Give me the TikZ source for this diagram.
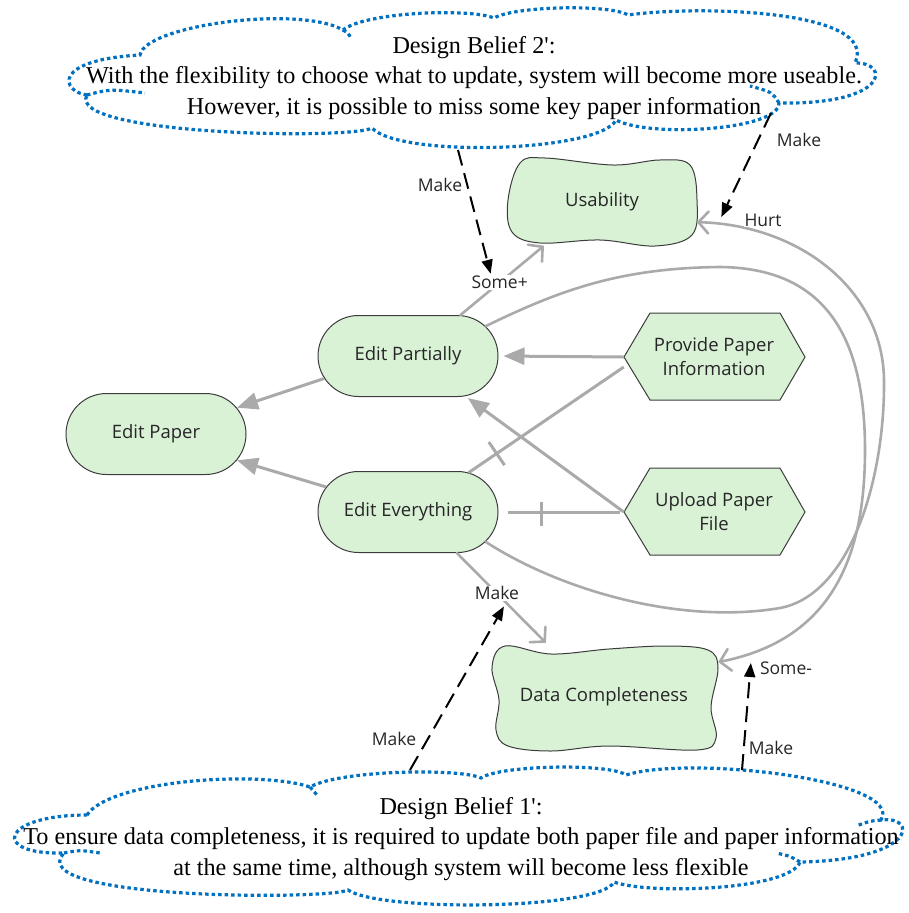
\documentclass[tikz,border=0pt]{standalone}
\usepackage{fontspec}
\setmainfont{Liberation Serif}
\newfontfamily\uifont{Open Sans}
\usetikzlibrary{shapes.misc, arrows.meta, decorations.markings}

\definecolor{nodefill}{RGB}{217,242,214}
\definecolor{nodeedge}{RGB}{60,60,60}
\definecolor{linkgray}{RGB}{170,170,170}
\definecolor{beliefblue}{RGB}{0,112,192}

\tikzset{
  goal/.style={rounded rectangle, draw=nodeedge, fill=nodefill, line width=1pt,
    minimum width=180pt, minimum height=81pt, inner sep=0pt,
    font=\uifont\fontsize{18.5}{24}\selectfont, text=black!85},
  plainbox/.style={rectangle, inner sep=0pt, align=center,
    font=\uifont\fontsize{18.5}{24}\selectfont, text=black!85},
  softshape/.style={draw=nodeedge, fill=nodefill, line width=1pt},
  hexshape/.style={draw=nodeedge, fill=nodefill, line width=1pt, line join=miter},
  dep/.style={draw=linkgray, line width=3pt, -{Triangle[length=21pt,width=17pt]}},
  contrib/.style={draw=linkgray, line width=2.6pt, line cap=round,
    -{Straight Barb[length=10pt,width=22pt,line cap=round]}},
  breaklink/.style={draw=linkgray, line width=3pt},
  cutmark/.style={postaction={decorate, decoration={markings,
    mark=at position #1 with {\draw[draw=linkgray, line width=3pt] (0pt,-14pt) -- (0pt,14pt);}}}},
  belieflink/.style={draw=black, line width=2pt, dash pattern=on 16pt off 8pt,
    -{Triangle[length=14pt,width=11pt]}},
  beliefcloud/.style={draw=beliefblue, line width=3.2pt, dash pattern=on 3.5pt off 3pt},
  belieftext/.style={align=center, inner sep=0pt, font=\fontsize{24.2}{30.5}\selectfont},
  lbl/.style={inner sep=1pt, font=\uifont\fontsize{17.5}{20}\selectfont, text=black!85}
}

\begin{document}
\begin{tikzpicture}[x=1pt,y=-1pt]
\useasboundingbox (0,0) rectangle (909,913);

% ---- belief clouds ----
\draw[beliefcloud] (87,95) .. controls (62,92) and (50,60) .. (140,55)
  .. controls (145,25) and (300,5) .. (343,30)
  .. controls (365,12) and (470,8) .. (494,18)
  .. controls (515,6) and (610,4) .. (628,15)
  .. controls (700,5) and (880,10) .. (855,63)
  .. controls (890,62) and (890,105) .. (779,103)
  .. controls (780,130) and (650,138) .. (616,120)
  .. controls (600,152) and (400,158) .. (372,128)
  .. controls (350,140) and (65,135) .. (87,95);
\draw[beliefcloud] (87,95) .. controls (110,89) .. (145,93);
\draw[beliefcloud] (779,103) .. controls (772,92) .. (750,86);
\draw[beliefcloud] (343,30) .. controls (348,33) .. (351,38);

\draw[beliefcloud] (87,815) .. controls (110,780) and (260,770) .. (310,787)
  .. controls (340,770) and (460,768) .. (481,778)
  .. controls (500,765) and (610,763) .. (626,775)
  .. controls (690,755) and (905,780) .. (881,820)
  .. controls (918,815) and (918,860) .. (800,862)
  .. controls (790,890) and (650,895) .. (614,882)
  .. controls (600,910) and (380,912) .. (348,890)
  .. controls (330,900) and (20,900) .. (64,853)
  .. controls (-10,855) and (0,815) .. (87,815);
\draw[beliefcloud] (64,853) .. controls (80,850) .. (100,853);
\draw[beliefcloud] (881,820) .. controls (870,821) .. (856,826);
\draw[beliefcloud] (800,862) .. controls (790,856) .. (776,853);
\draw[beliefcloud] (310,787) .. controls (313,791) .. (317,795);

\node[belieftext] (belief2) at (474,78) {Design Belief 2\textquotesingle:\\With the flexibility to choose what to update, system will become more useable.\\However, it is possible to miss some key paper information};
\node[belieftext] (belief1) at (461,839) {Design Belief 1\textquotesingle:\\To ensure data completeness, it is required to update both paper file and paper information\\at the same time, although system will become less flexible};

% ---- soft goals and tasks ----
\draw[softshape] plot[smooth cycle, tension=0.6] coordinates {(520,163) (545,158) (613,165) (660,160) (690,165) (697,200) (692,235) (655,246) (600,240) (540,243) (512,232) (508,200)};
\draw[softshape] plot[smooth cycle, tension=0.6] coordinates {(505,646) (551,654) (609,649) (667,646) (708,650) (718,668) (711,707) (716,738) (697,750) (609,746) (551,751) (508,746) (496,730) (499,700) (492,667)};
\draw[hexshape] (624,357) -- (650,313) -- (780,313) -- (805,357) -- (780,400) -- (650,400) -- cycle;
\draw[hexshape] (624,512) -- (650,468) -- (780,468) -- (805,512) -- (780,555) -- (650,555) -- cycle;

\node[goal] (paper) at (156,434) {Edit Paper};
\node[goal] (part) at (408,356) {Edit Partially};
\node[goal] (every) at (408,512) {Edit Everything};
\node[plainbox, minimum width=180pt, minimum height=87pt] (prov) at (714,357) {Provide Paper\\Information};
\node[plainbox, minimum width=180pt, minimum height=87pt] (upl) at (714,512) {Upload Paper\\File};
\node[plainbox, minimum width=189pt, minimum height=87pt] (use) at (602,202) {Usability};
\node[plainbox, minimum width=228pt, minimum height=108pt] (data) at (604,697) {Data Completeness};

% ---- decompositions and dependencies ----
\draw[dep] (part.195) -- (paper.18);
\draw[dep] (every.163) -- (paper.342);
\draw[dep, shorten >=5pt] (prov.west) -- (part.east);
\draw[dep, shorten >=3pt] (upl.west) -- (part.325);
\draw[breaklink, cutmark=0.82] ([yshift=-10pt]prov.west) -- (every.33);
\draw[breaklink, cutmark=0.71, shorten <=4pt] (upl.west) -- ([xshift=9pt]every.east);

% ---- contributions ----
\draw[contrib] (part.38) -- node[lbl, fill=white, pos=0.47] (someplus) {Some+} (use.217);
\draw[contrib] (every.-40) -- node[lbl, fill=white, pos=0.45] (mk) {Make} (data.137);
\draw[contrib] (part.21) .. controls (560,290) and (620,268) .. (720,267)
  .. controls (820,268) and (865,330) .. (865,450)
  .. controls (865,560) and (830,640) .. (data.17);
\draw[contrib] (every.-21) .. controls (560,590) and (680,625) .. (780,608)
  .. controls (850,595) and (885,480) .. (884,380)
  .. controls (883,290) and (800,225) .. (use.-12);
\node[lbl, fill=white] (someminus) at (786,668) {Some-};
\node[lbl, fill=white] (hurt) at (763,220) {Hurt};

% ---- belief links ----
\coordinate (b2l) at (458,150);
\coordinate (b2r) at (771,113);
\coordinate (b1l) at (410,770);
\coordinate (b1r) at (742,770);
\draw[belieflink] (b2l) -- ([xshift=-9pt]someplus.north);
\draw[belieflink] (b2r) -- ([xshift=-22pt,yshift=3pt]hurt.west);
\draw[belieflink] (b1l) -- ([xshift=7pt,yshift=-4pt]mk.south);
\draw[belieflink] (b1r) -- ([xshift=-8pt,yshift=5pt]someminus.west);
\node[lbl] (m1) at (440,185) {Make};
\node[lbl] (m2) at (799,140) {Make};
\node[lbl] (m3) at (394,739) {Make};
\node[lbl] (m4) at (771,748) {Make};
\end{tikzpicture}
\end{document}
